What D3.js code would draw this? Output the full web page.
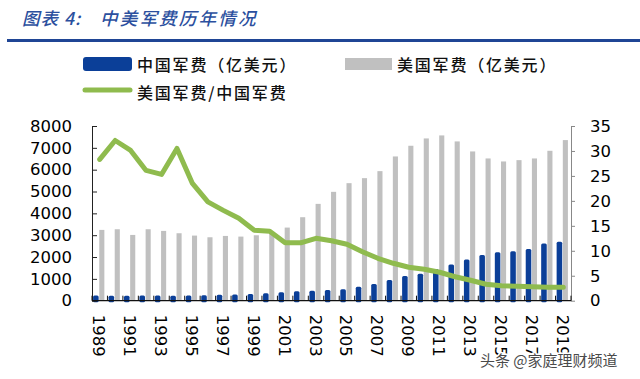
<!DOCTYPE html>
<html><head><meta charset="utf-8">
<script src="https://cdn.jsdelivr.net/npm/d3@7/dist/d3.min.js"></script>
<style>body{margin:0;background:#fff}svg{display:block}</style>
</head><body><svg id="c" width="640" height="379"></svg>
<script>
const years = ["1989","1990","1991","1992","1993","1994","1995","1996","1997","1998","1999","2000","2001","2002","2003","2004","2005","2006","2007","2008","2009","2010","2011","2012","2013","2014","2015","2016","2017","2018","2019"];
const chinaSpend = [240,230,230,240,240,230,240,250,275,280,305,340,385,430,450,490,530,642,765,948,1131,1239,1453,1660,1890,2096,2220,2260,2372,2625,2700];
const usSpend = [3242,3272,3012,3272,3196,3089,2982,2905,2966,2936,2997,3150,3349,3823,4434,4985,5382,5612,5933,6606,7095,7431,7569,7294,6835,6514,6376,6437,6514,6865,7355];
const ratio = [28.3,32.1,30.1,26.1,25.3,30.5,23.5,19.8,18.1,16.5,14.1,13.9,11.6,11.6,12.5,12.0,11.3,9.8,8.5,7.5,6.7,6.3,5.7,4.8,4.1,3.3,3.0,2.9,2.8,2.7,2.7];
const xTickLabels = ["1989","1991","1993","1995","1997","1999","2001","2003","2005","2007","2009","2011","2013","2015","2017","2019"];
const leftTicks = [0,1000,2000,3000,4000,5000,6000,7000,8000];
const rightTicks = [0,5,10,15,20,25,30,35];
const seriesNames = ["中国军费（亿美元）","美国军费（亿美元）","美国军费/中国军费"];
const titleLead = "图表 4:";
const titleText = "中美军费历年情况";
const watermark = "头条 @家庭理财频道";

const BLUE = "#0b3f98", GRAY = "#c0c0c0", GREEN = "#8fbb4e", TITLE = "#2b4f9e";
const svg = d3.select("#c");
svg.append("rect").attr("width",640).attr("height",379).attr("fill","#fff");

// title
const cjk = "'Noto Sans CJK SC','Noto Sans',sans-serif";
svg.append("text").attr("x",22).attr("y",25).attr("fill",TITLE)
  .attr("font-family",cjk).attr("font-size",17.5).attr("font-style","italic").attr("font-weight",500)
  .attr("letter-spacing",1).text(titleLead);
svg.append("text").attr("x",100).attr("y",25).attr("fill",TITLE)
  .attr("font-family",cjk).attr("font-size",17.5).attr("font-style","italic").attr("font-weight",500)
  .attr("letter-spacing",2.2).text(titleText);
svg.append("line").attr("x1",7).attr("x2",640).attr("y1",40.5).attr("y2",40.5)
  .attr("stroke","#1f4595").attr("stroke-width",3);

// legend
const lg = svg.append("g").attr("font-family",cjk).attr("font-size",16).attr("font-weight",500).attr("fill","#111");
lg.append("rect").attr("x",83).attr("y",57).attr("width",49).attr("height",14).attr("rx",3).attr("fill",BLUE);
lg.append("text").attr("x",137).attr("y",63.5).attr("dominant-baseline","central").attr("letter-spacing",1.8).text(seriesNames[0]);
lg.append("rect").attr("x",345).attr("y",58).attr("width",47).attr("height",12).attr("fill",GRAY);
lg.append("text").attr("x",397).attr("y",63.5).attr("dominant-baseline","central").attr("letter-spacing",1.8).text(seriesNames[1]);
lg.append("line").attr("x1",85).attr("x2",130).attr("y1",90).attr("y2",90).attr("stroke",GREEN).attr("stroke-width",5).attr("stroke-linecap","round");
lg.append("text").attr("x",137).attr("y",91.5).attr("dominant-baseline","central").attr("letter-spacing",1.8).text(seriesNames[2]);

// scales
const x = d3.scaleBand().domain(years).range([92,571]).paddingInner(0).paddingOuter(0);
const yL = d3.scaleLinear().domain([0,8000]).range([300.7,126]);
const yR = d3.scaleLinear().domain([0,35]).range([300.7,126]);
const bw = x.bandwidth();

// bars
svg.append("g").selectAll("rect").data(years).join("rect")
  .attr("x",(d)=>x(d)+bw*0.47).attr("width",bw*0.33)
  .attr("y",(d,i)=>yL(usSpend[i])).attr("height",(d,i)=>yL(0)-yL(usSpend[i]))
  .attr("fill",GRAY);
svg.append("g").selectAll("rect").data(years).join("rect")
  .attr("x",(d)=>x(d)+bw*0.07).attr("width",bw*0.36)
  .attr("y",(d,i)=>yL(chinaSpend[i])).attr("height",(d,i)=>yL(0)-yL(chinaSpend[i])+1.5)
  .attr("rx",1.5).attr("fill",BLUE);

// axes
const axFont = "'DejaVu Sans',Verdana,sans-serif";
const gL = svg.append("g").attr("transform","translate(92,0)")
  .call(d3.axisLeft(yL).tickValues(leftTicks).tickFormat(d3.format("d")).tickSizeInner(-5).tickSizeOuter(0).tickPadding(20));
gL.select(".domain").attr("stroke","#222");
gL.selectAll(".tick line").attr("stroke","#222");
gL.selectAll("text").attr("font-family",axFont).attr("font-size",16.5).attr("fill","#000");

const gR = svg.append("g").attr("transform","translate(571,0)")
  .call(d3.axisRight(yR).tickValues(rightTicks).tickSizeInner(4).tickSizeOuter(0).tickPadding(15));
gR.select(".domain").attr("stroke","#888");
gR.selectAll(".tick line").attr("stroke","#888");
gR.selectAll("text").attr("font-family",axFont).attr("font-size",16.5).attr("fill","#000");

// ratio line
const line = d3.line().x((d,i)=>x(years[i])+bw/2).y(d=>yR(d));
svg.append("path").datum(ratio).attr("d",line).attr("fill","none")
  .attr("stroke",GREEN).attr("stroke-width",5).attr("stroke-linejoin","round").attr("stroke-linecap","round");

// x axis
const gX = svg.append("g").attr("transform","translate(0,300.7)");
gX.append("line").attr("x1",92).attr("x2",571).attr("stroke","#111").attr("stroke-width",1.2);
gX.selectAll("line.tk").data(years.concat(["end"])).join("line").attr("class","tk")
  .attr("x1",d=>d==="end"?571:x(d)).attr("x2",d=>d==="end"?571:x(d))
  .attr("y1",0).attr("y2",-5).attr("stroke","#111");
gX.selectAll("text").data(xTickLabels).join("text")
  .attr("transform",d=>`translate(${x(d)+bw/2-1},14) rotate(90)`)
  .attr("dominant-baseline","central")
  .attr("font-family",axFont).attr("font-size",16.5).attr("fill","#000")
  .text(d=>d);

// watermark
svg.append("text").attr("x",480).attr("y",359).attr("dominant-baseline","central")
  .attr("font-family",cjk).attr("font-size",15).attr("fill","#4a4a4a")
  .attr("stroke","#fff").attr("stroke-width",3).attr("paint-order","stroke")
  .text(watermark);
</script></body></html>
